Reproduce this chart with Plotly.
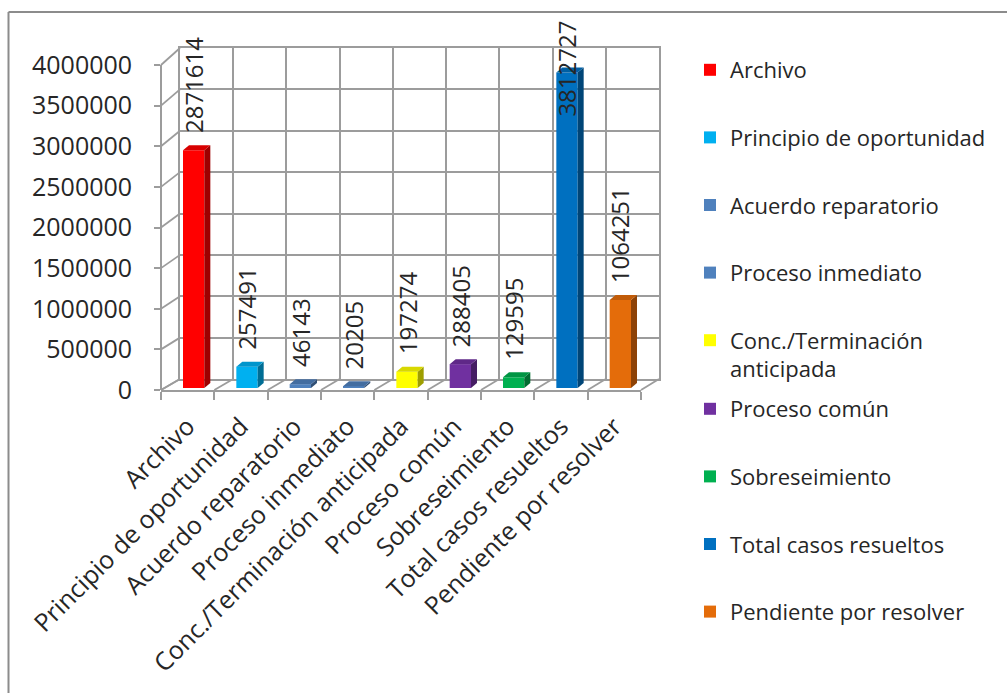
import plotly.graph_objects as go

# ---- data -------------------------------------------------------------
categorias = [
    "Archivo",
    "Principio de oportunidad",
    "Acuerdo reparatorio",
    "Proceso inmediato",
    "Conc./Terminación anticipada",
    "Proceso común",
    "Sobreseimiento",
    "Total casos resueltos",
    "Pendiente por resolver",
]
leyenda = [
    "Archivo",
    "Principio de oportunidad",
    "Acuerdo reparatorio",
    "Proceso inmediato",
    "Conc./Terminación<br>anticipada",
    "Proceso común",
    "Sobreseimiento",
    "Total casos resueltos",
    "Pendiente por resolver",
]
valores = [2871614, 257491, 46143, 20205, 197274, 288405, 129595, 3812727, 1064251]
colores = ["#FF0000", "#00B0F0", "#4F81BD", "#4F81BD", "#FFFF00",
           "#7030A0", "#00B050", "#0070C0", "#E46C0A"]
y_ticks = [0, 500000, 1000000, 1500000, 2000000, 2500000, 3000000, 3500000, 4000000]
y_ticktext = [str(t) for t in y_ticks]
Y_MAX = 4000000

# ---- layout geometry (pixels) -----------------------------------------
W, H = 1007, 693
FONT = "Open Sans"
TXT = "#262626"
GRID = "#9c9c9c"
GW = 1.8

FRONT_X0, FRONT_X1, FRONT_Y0, FRONT_YT = 161, 641, 390, 65   # front axes
BACK_X0, BACK_X1, BACK_Y0, BACK_YT = 180, 659, 379, 48       # back wall
BAR_Y0, BAR_YT = 388, 57                                      # bar plane
BAR_X0, BAR_X1 = 167, 647
N = len(categorias)
BAR_W = 0.40
DEPTH_PX = (6, 5)


def px(x):
    return x / W


def py(y):
    return 1 - y / H


def shade(hexcol, f):
    r, g, b = (int(hexcol[i:i + 2], 16) for i in (1, 3, 5))
    return "rgb(%d,%d,%d)" % (r * f, g * f, b * f)


fig = go.Figure()

# empty traces so the wall and front-axis subplots get drawn
for xa, ya in (("x", "y"), ("x3", "y3")):
    fig.add_trace(go.Scatter(x=[None], y=[None], xaxis=xa, yaxis=ya,
                             showlegend=False, hoverinfo="skip"))

# bars (front faces)
for i, (nom, v, c) in enumerate(zip(leyenda, valores, colores)):
    fig.add_trace(go.Bar(
        x=[i + 0.5], y=[v], width=BAR_W, name=nom,
        marker=dict(color=c, line=dict(width=0)),
        xaxis="x2", yaxis="y2",
        legend="legend" if i < 5 else "legend2",
        legendgroup=str(i),
        hovertemplate=categorias[i] + ": %{y}<extra></extra>",
    ))

shapes = []

# side and top faces of each bar
x_unit = (BAR_X1 - BAR_X0) / N
y_unit = (BAR_Y0 - BAR_YT) / Y_MAX
dxu = DEPTH_PX[0] / x_unit
dyu = DEPTH_PX[1] / y_unit
for i, (v, c) in enumerate(zip(valores, colores)):
    xl, xr = i + 0.5 - BAR_W / 2, i + 0.5 + BAR_W / 2
    side = f"M{xr},0 L{xr + dxu},{dyu} L{xr + dxu},{v + dyu} L{xr},{v} Z"
    top = f"M{xl},{v} L{xr},{v} L{xr + dxu},{v + dyu} L{xl + dxu},{v + dyu} Z"
    shapes.append(dict(type="path", path=side, xref="x2", yref="y2",
                       fillcolor=shade(c, 0.62), line=dict(width=0), layer="above"))
    shapes.append(dict(type="path", path=top, xref="x2", yref="y2",
                       fillcolor=shade(c, 0.85), line=dict(width=0), layer="above"))

# side wall diagonals (one per value gridline)
for t in y_ticks:
    yf = FRONT_Y0 - t * (FRONT_Y0 - FRONT_YT) / Y_MAX
    yb = BACK_Y0 - t * (BACK_Y0 - BACK_YT) / Y_MAX
    shapes.append(dict(type="line", xref="paper", yref="paper",
                       x0=px(FRONT_X0), y0=py(yf), x1=px(BACK_X0), y1=py(yb),
                       line=dict(color=GRID, width=GW), layer="below"))

# floor diagonals (one per category boundary)
for k in range(N + 1):
    xf = FRONT_X0 + k * (FRONT_X1 - FRONT_X0) / N
    xb = BACK_X0 + k * (BACK_X1 - BACK_X0) / N
    shapes.append(dict(type="line", xref="paper", yref="paper",
                       x0=px(xf), y0=py(FRONT_Y0), x1=px(xb), y1=py(BACK_Y0),
                       line=dict(color=GRID, width=GW), layer="below"))

# chart frame
shapes.append(dict(type="line", xref="paper", yref="paper",
                   x0=px(8.5), y0=py(12), x1=1.0, y1=py(12),
                   line=dict(color="#8c8c8c", width=2)))
shapes.append(dict(type="line", xref="paper", yref="paper",
                   x0=px(8.5), y0=py(12), x1=px(8.5), y1=0,
                   line=dict(color="#8c8c8c", width=2)))

# value labels, kept inside the chart area
annotations = []
for i, v in enumerate(valores):
    top_px = BAR_Y0 - v * y_unit
    bottom = top_px - 15
    bottom = max(bottom, 22 + 13.8 * len(str(v)))
    annotations.append(dict(
        x=i + 0.5, xref="x2", xshift=0, y=py(bottom), yref="paper",
        text=str(v), textangle=-90, showarrow=False,
        xanchor="center", yanchor="bottom",
        font=dict(family=FONT, size=24, color=TXT),
    ))

fig.update_layout(
    width=W, height=H,
    margin=dict(l=0, r=0, t=0, b=0, autoexpand=False),
    paper_bgcolor="white",
    plot_bgcolor="rgba(0,0,0,0)",
    barmode="overlay",
    font=dict(family=FONT, color=TXT),
    shapes=shapes,
    annotations=annotations,
    # back wall
    xaxis=dict(domain=[px(BACK_X0), px(BACK_X1)], range=[0, N], anchor="y",
               tick0=0, dtick=1, showgrid=True, gridcolor=GRID, gridwidth=GW,
               showticklabels=False, ticks="", zeroline=False,
               showline=True, mirror=True, linecolor=GRID, linewidth=GW,
               automargin=False, fixedrange=True),
    yaxis=dict(domain=[py(BACK_Y0), py(BACK_YT)], range=[0, Y_MAX], anchor="x",
               tickvals=y_ticks, showgrid=True, gridcolor=GRID, gridwidth=GW,
               showticklabels=False, ticks="", zeroline=False,
               showline=True, mirror=True, linecolor=GRID, linewidth=GW,
               automargin=False, fixedrange=True),
    # bar plane
    xaxis2=dict(domain=[px(BAR_X0), px(BAR_X1)], range=[0, N], anchor="y2",
                visible=False, automargin=False, fixedrange=True),
    yaxis2=dict(domain=[py(BAR_Y0), py(BAR_YT)], range=[0, Y_MAX], anchor="x2",
                visible=False, automargin=False, fixedrange=True),
    # front axes
    xaxis3=dict(domain=[px(FRONT_X0), px(FRONT_X1)], range=[0, N], anchor="y3",
                tickmode="array", tickvals=[k + 0.5 for k in range(N)],
                ticktext=categorias, tickangle=-45, ticks="",
                tickfont=dict(family=FONT, size=25, color=TXT),
                ticklabelstandoff=10,
                minor=dict(tickmode="array", tickvals=list(range(N + 1)),
                           ticks="outside", ticklen=8, tickcolor=GRID,
                           tickwidth=GW, showgrid=False),
                showline=True, linecolor=GRID, linewidth=GW,
                showgrid=False, zeroline=False, automargin=False,
                fixedrange=True),
    yaxis3=dict(domain=[py(FRONT_Y0), py(FRONT_YT)], range=[0, Y_MAX],
                anchor="free", position=px(FRONT_X0),
                tickmode="array", tickvals=y_ticks, ticktext=y_ticktext,
                ticks="outside", ticklen=6, tickcolor=GRID, tickwidth=GW,
                tickfont=dict(family=FONT, size=25, color=TXT),
                ticklabelstandoff=17,
                showline=True, linecolor=GRID, linewidth=GW,
                showgrid=False, zeroline=False, automargin=False,
                fixedrange=True),
    legend=dict(x=px(690), y=py(49), xanchor="left", yanchor="top",
                traceorder="grouped", tracegroupgap=36, valign="top",
                font=dict(family=FONT, size=22, color=TXT),
                bgcolor="rgba(0,0,0,0)"),
    legend2=dict(x=px(690), y=py(388), xanchor="left", yanchor="top",
                 traceorder="grouped", tracegroupgap=36, valign="top",
                 font=dict(family=FONT, size=22, color=TXT),
                 bgcolor="rgba(0,0,0,0)"),
)

fig.write_html("out.html")
